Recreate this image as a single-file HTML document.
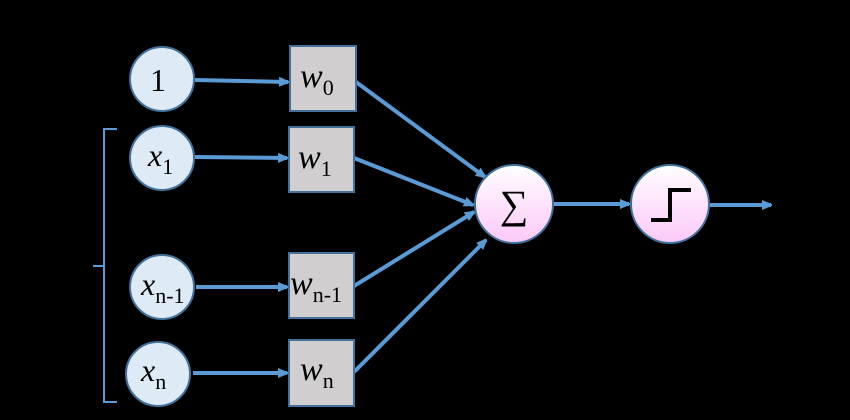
<!DOCTYPE html>
<html><head><style>body{margin:0;background:#000}</style></head><body>
<svg width="850" height="420" xmlns="http://www.w3.org/2000/svg" style="display:block">
<defs>
<marker id="a" markerWidth="10" markerHeight="10" refX="9" refY="5" orient="auto" markerUnits="userSpaceOnUse"><path d="M0,0 L12,5 L0,10 Z" fill="#5b9bd5"/></marker>
<linearGradient id="p" x1="0" y1="0" x2="0" y2="1"><stop offset="0" stop-color="#fff"/><stop offset="1" stop-color="#fcc8f8"/></linearGradient>
</defs>
<rect width="850" height="420" fill="#000"/>
<g stroke="#5b9bd5" stroke-width="4" fill="none">
<line x1="195" y1="80" x2="288" y2="82" marker-end="url(#a)"/>
<line x1="195" y1="157" x2="287" y2="158" marker-end="url(#a)"/>
<line x1="196" y1="287" x2="287" y2="287" marker-end="url(#a)"/>
<line x1="193" y1="373" x2="287" y2="373" marker-end="url(#a)"/>
<line x1="356" y1="82" x2="485" y2="177" marker-end="url(#a)"/>
<line x1="354" y1="158" x2="473" y2="205" marker-end="url(#a)"/>
<line x1="354" y1="286" x2="474" y2="212" marker-end="url(#a)"/>
<line x1="354" y1="372" x2="486" y2="240" marker-end="url(#a)"/>
<line x1="553" y1="204" x2="629" y2="204" marker-end="url(#a)"/>
<line x1="709" y1="205" x2="771" y2="205" marker-end="url(#a)"/>
</g>
<path d="M117,129 H104 V402 H117 M104,266 H93" stroke="#5b9bd5" stroke-width="2" fill="none"/>
<g fill="#deebf7" stroke="#41719c" stroke-width="2">
<circle cx="162" cy="79" r="32"/><circle cx="162" cy="158" r="32"/>
<circle cx="162" cy="287" r="32"/><circle cx="158" cy="374" r="32"/>
</g>
<g fill="#d0cece" stroke="#41719c" stroke-width="2">
<rect x="290" y="46" width="66" height="65"/><rect x="289" y="127" width="65" height="65"/>
<rect x="289" y="253" width="65" height="65"/><rect x="289" y="340" width="65" height="66"/>
</g>
<circle cx="514" cy="204" r="39" fill="url(#p)" stroke="#41719c" stroke-width="2"/>
<circle cx="670" cy="204" r="39" fill="url(#p)" stroke="#41719c" stroke-width="2"/>
<path d="M651,220 H670 V190 H691" stroke="#000" stroke-width="4" fill="none"/>
<g font-family="Liberation Serif, serif" fill="#000">
<text x="150" y="91" font-size="32">1</text>
<text x="148" y="166" font-size="32" font-style="italic">x<tspan font-style="normal" font-size="22" dy="8">1</tspan></text>
<text x="141" y="295" font-size="32" font-style="italic">x<tspan font-style="normal" font-size="22" dy="8">n-1</tspan></text>
<text x="141" y="381" font-size="32" font-style="italic">x<tspan font-style="normal" font-size="22" dy="8">n</tspan></text>
<text x="300" y="87" font-size="34" font-style="italic">w<tspan font-style="normal" font-size="22" dy="8">0</tspan></text>
<text x="298" y="168" font-size="34" font-style="italic">w<tspan font-style="normal" font-size="22" dy="8">1</tspan></text>
<text x="290" y="294" font-size="34" font-style="italic">w<tspan font-style="normal" font-size="22" dy="8">n-1</tspan></text>
<text x="300" y="380" font-size="34" font-style="italic">w<tspan font-style="normal" font-size="22" dy="8">n</tspan></text>
<text x="514" y="218" font-size="40" text-anchor="middle">∑</text>
</g>
</svg>
</body></html>
